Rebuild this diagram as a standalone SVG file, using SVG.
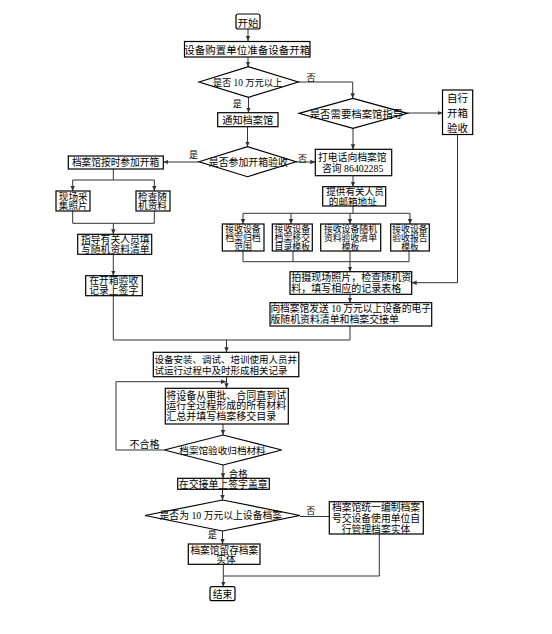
<svg xmlns="http://www.w3.org/2000/svg" width="552" height="634" viewBox="0 0 552 634">
<style>
.b{fill:#fff;stroke:#000;stroke-width:1.2}
.c{fill:none;stroke:#333;stroke-width:1}
.a{fill:none;stroke:#333;stroke-width:1;marker-end:url(#ar)}
text{font-family:'Liberation Serif','Noto Sans CJK SC',serif;font-size:10px;fill:#000}
.m{text-anchor:middle}
</style>
<defs>
<marker id="ar" markerWidth="6" markerHeight="6" refX="5" refY="3" orient="auto" markerUnits="userSpaceOnUse">
<path d="M0,0.8 L5,3 L0,5.2 z" fill="#333"/>
</marker>
</defs>
<rect width="552" height="634" fill="#fff"/>
<g id="connectors">
<path class="a" d="M248,29 V41"/>
<path class="a" d="M248,57 V66.7"/>
<path class="a" d="M298.3,82 H352.7 V98.3"/>
<path class="a" d="M248.5,97.3 V112.7"/>
<path class="a" d="M247.5,126.7 V146.7"/>
<path class="a" d="M407.3,113 H442.5"/>
<path class="a" d="M353,128.3 V149.3"/>
<path class="a" d="M199,162 H163.3"/>
<path class="a" d="M296,162 H315.3"/>
<path class="a" d="M353,175.7 V186.7"/>
<path class="c" d="M353,206 V213.3 M243,213.3 H410"/>
<path class="a" d="M243,213.3 V224"/>
<path class="a" d="M291,213.3 V224"/>
<path class="a" d="M350,213.3 V224"/>
<path class="a" d="M410,213.3 V224"/>
<path class="c" d="M243,251 V261.7 M293,251 V261.7 M350,251 V261.7 M409,251 V261.7 M243,261.7 H409"/>
<path class="a" d="M350,261.7 V271.7"/>
<path class="a" d="M457.5,134.5 V282.7 H411.7"/>
<path class="a" d="M350,294.3 V302.7"/>
<path class="c" d="M350,326 V340 H113.3 V295.7"/>
<path class="a" d="M226.5,340 V352.3"/>
<path class="c" d="M113.3,169 V180 H72.7 M113.3,180 H154.3"/>
<path class="a" d="M72.7,180 V191"/>
<path class="a" d="M154.3,180 V191"/>
<path class="c" d="M72.7,211 V223.3 H154.3 V211"/>
<path class="a" d="M113.3,223.3 V234.3"/>
<path class="a" d="M113.3,254.3 V275.7"/>
<path class="a" d="M226.5,376.7 V388.3"/>
<path class="a" d="M164.3,450 H116 V381.7 H226"/>
<path class="a" d="M223,424 V435"/>
<path class="a" d="M223,465 V478.3"/>
<path class="a" d="M222.5,489.3 V500"/>
<path class="c" d="M300,516.5 H329.3"/>
<path class="a" d="M222.5,530 V544"/>
<path class="c" d="M379.3,534 V576 H223.3"/>
<path class="a" d="M223.3,564.3 V586.7"/>
</g>
<g id="n-start">
<rect class="b" x="236" y="14" width="24" height="15" rx="2"/>
<text class="m" x="248" y="26.8" style="font-size:10.5px">开始</text>
</g>
<g id="n-prepare">
<rect class="b" x="184.5" y="41.5" width="125.5" height="15.5"/>
<text class="m" x="247.2" y="53.8" style="font-size:10.5px">设备购置单位准备设备开箱</text>
</g>
<g id="d-over10">
<polygon class="b" points="199,82 248.5,66.7 298.3,82 248.5,97.3"/>
<text class="m" x="247.5" y="86" style="font-size:9.3px">是否 10 万元以上</text>
<text x="306.5" y="81" style="font-size:9px">否</text>
<text x="232.8" y="106.5" style="font-size:9px">是</text>
</g>
<g id="n-notify">
<rect class="b" x="217.7" y="112.7" width="60.3" height="14"/>
<text class="m" x="247.7" y="124" style="font-size:10.2px">通知档案馆</text>
</g>
<g id="d-guide">
<polygon class="b" points="299,113.3 353,98.3 407.3,113.3 353,128.3"/>
<text class="m" x="356.5" y="118" style="font-size:10.4px">是否需要档案馆指导</text>
</g>
<g id="n-self">
<rect class="b" x="442.5" y="90" width="30.2" height="44.5"/>
<text class="m" x="457.5" y="101.8" style="font-size:10.5px">自行</text>
<text class="m" x="457.5" y="116.8" style="font-size:10.5px">开箱</text>
<text class="m" x="457.5" y="131.8" style="font-size:10.5px">验收</text>
</g>
<g id="d-attend">
<polygon class="b" points="199,161.7 247.5,146.7 296,161.7 247.5,176.7"/>
<text class="m" x="248.3" y="165.7" style="font-size:9.9px">是否参加开箱验收</text>
<text x="189" y="158" style="font-size:9px">是</text>
<text x="298" y="161.5" style="font-size:9px">否</text>
</g>
<g id="n-archive-attend">
<rect class="b" x="68.3" y="156" width="95" height="13"/>
<text class="m" x="115.5" y="166.2" style="font-size:9.7px">档案馆按时参加开箱</text>
</g>
<g id="n-photo">
<rect class="b" x="56" y="191" width="34" height="20"/>
<text class="m" x="73.2" y="199.6" style="font-size:9.6px">现场采</text>
<text class="m" x="73.2" y="209.3" style="font-size:9.6px">集照片</text>
</g>
<g id="n-check">
<rect class="b" x="136" y="191" width="34" height="20"/>
<text class="m" x="152.5" y="199.6" style="font-size:9.6px">检查随</text>
<text class="m" x="152.5" y="209.3" style="font-size:9.6px">机资料</text>
</g>
<g id="n-guide-fill">
<rect class="b" x="77.7" y="234.3" width="74" height="20"/>
<text class="m" x="115.3" y="243" style="font-size:9.8px">指导有关人员填</text>
<text class="m" x="115.3" y="252.9" style="font-size:9.8px">写随机资料清单</text>
</g>
<g id="n-sign-open">
<rect class="b" x="85.7" y="275.7" width="56.6" height="20"/>
<text class="m" x="113.7" y="284.3" style="font-size:9.8px">在开箱验收</text>
<text class="m" x="113.7" y="294.2" style="font-size:9.8px">记录上签字</text>
</g>
<g id="n-call">
<rect class="b" x="315.3" y="149.3" width="76.4" height="26.4"/>
<text class="m" x="352.3" y="160.8" style="font-size:9.8px">打电话向档案馆</text>
<text class="m" x="352.7" y="172.3" style="font-size:9.8px">咨询 86402285</text>
</g>
<g id="n-email">
<rect class="b" x="322.7" y="186.7" width="63" height="19.3"/>
<text class="m" x="355" y="195.2" style="font-size:9.6px">提供有关人员</text>
<text class="m" x="352.8" y="204.9" style="font-size:9.6px">的邮箱地址</text>
</g>
<g id="n-recv1">
<rect class="b" x="222.3" y="224" width="41.7" height="27"/>
<text class="m" x="243" y="232.3" style="font-size:8.9px">接收设备</text>
<text class="m" x="243" y="241.3" style="font-size:8.9px">档案归档</text>
<text class="m" x="243" y="250.3" style="font-size:8.9px">范围</text>
</g>
<g id="n-recv2">
<rect class="b" x="272.3" y="224" width="40" height="27"/>
<text class="m" x="292.3" y="232.3" style="font-size:8.9px">接收设备</text>
<text class="m" x="292.3" y="241.3" style="font-size:8.9px">档案移交</text>
<text class="m" x="292.3" y="250.3" style="font-size:8.9px">目录模板</text>
</g>
<g id="n-recv3">
<rect class="b" x="320.7" y="224" width="60" height="27"/>
<text class="m" x="350.5" y="232.3" style="font-size:8.9px">接收设备随机</text>
<text class="m" x="350.5" y="241.3" style="font-size:8.9px">资料验收清单</text>
<text class="m" x="350.5" y="250.3" style="font-size:8.9px">模板</text>
</g>
<g id="n-recv4">
<rect class="b" x="390.7" y="224" width="38.6" height="27"/>
<text class="m" x="410" y="232.3" style="font-size:8.9px">接收设备</text>
<text class="m" x="410" y="241.3" style="font-size:8.9px">验收报告</text>
<text class="m" x="410" y="250.3" style="font-size:8.9px">模板</text>
</g>
<g id="n-shoot">
<rect class="b" x="290" y="271.7" width="121.7" height="22.6"/>
<text x="291.2" y="281" style="font-size:10px">拍摄现场照片，检查随机资</text>
<text x="291.2" y="292.4" style="font-size:10px">料，填写相应的记录表格</text>
</g>
<g id="n-send">
<rect class="b" x="270" y="302.7" width="161.7" height="23.3"/>
<text x="270.4" y="312.3" style="font-size:10px" textLength="160.5" lengthAdjust="spacingAndGlyphs">向档案馆发送 10 万元以上设备的电子</text>
<text x="270.4" y="322.6" style="font-size:9.9px">版随机资料清单和档案交接单</text>
</g>
<g id="n-install">
<rect class="b" x="153.3" y="352.3" width="145.5" height="24.4"/>
<text x="154.6" y="362.6" style="font-size:9.5px">设备安装、调试、培训使用人员并</text>
<text x="154.6" y="374.3" style="font-size:9.5px">试运行过程中及时形成相关记录</text>
</g>
<g id="n-collect">
<rect class="b" x="165.3" y="388.3" width="123" height="35.7"/>
<text x="166.2" y="398.5" style="font-size:10px">将设备从审批、合同直到试</text>
<text x="166.2" y="409.4" style="font-size:10px">运行全过程形成的所有材料</text>
<text x="166.2" y="420.3" style="font-size:10px">汇总并填写档案移交目录</text>
</g>
<g id="d-accept">
<polygon class="b" points="164.3,450 223,435 281.7,450 223,465"/>
<text class="m" x="222.5" y="453.5" style="font-size:9.6px">档案馆验收归档材料</text>
<text x="129.6" y="448.4" style="font-size:10px">不合格</text>
<text x="228.8" y="477.4" style="font-size:9.4px">合格</text>
</g>
<g id="n-sign-seal">
<rect class="b" x="177.7" y="478.3" width="91.6" height="11"/>
<text class="m" x="223.3" y="488" style="font-size:9.9px">在交接单上签字盖章</text>
</g>
<g id="d-over10b">
<polygon class="b" points="145,515.5 222.5,500 300,515.5 222.5,531"/>
<text class="m" x="220.8" y="519.4" style="font-size:9.8px">是否为 10 万元以上设备档案</text>
<text x="306.3" y="514.4" style="font-size:9px">否</text>
<text x="207.8" y="538.4" style="font-size:9px">是</text>
</g>
<g id="n-unify">
<rect class="b" x="329.3" y="501.7" width="94" height="32.3"/>
<text class="m" x="376" y="510.9" style="font-size:9.8px">档案馆统一编制档案</text>
<text class="m" x="376" y="521.9" style="font-size:9.8px">号交设备使用单位自</text>
<text class="m" x="376" y="532.8" style="font-size:9.8px">行管理档案实体</text>
</g>
<g id="n-keep">
<rect class="b" x="188.3" y="544" width="71.7" height="20.3"/>
<text class="m" x="224.3" y="553.6" style="font-size:9.7px">档案馆留存档案</text>
<text class="m" x="226" y="563.4" style="font-size:9.7px">实体</text>
</g>
<g id="n-end">
<rect class="b" x="210" y="586.7" width="25" height="14" rx="2"/>
<text class="m" x="222.5" y="598.3" style="font-size:9.8px">结束</text>
</g>
</svg>
